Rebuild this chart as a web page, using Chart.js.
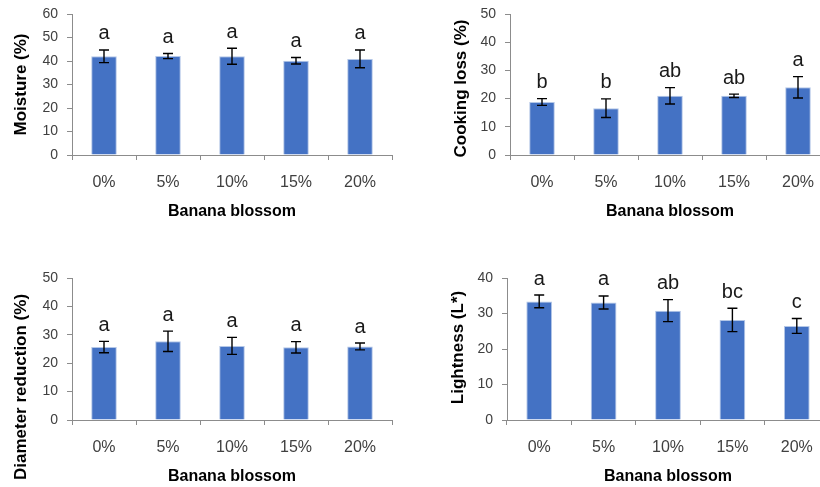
<!DOCTYPE html>
<html>
<head>
<meta charset="utf-8">
<script src="https://cdn.jsdelivr.net/npm/chart.js@4/dist/chart.umd.min.js"></script>
<style>
  html, body { margin: 0; padding: 0; background: #fff; width: 820px; height: 487px; overflow: hidden; position: relative; }
  canvas { position: absolute; }
</style>
</head>
<body>
<canvas id="moisture" width="410" height="240" style="left:0;top:0"></canvas>
<canvas id="cooking" width="420" height="240" style="left:410px;top:0"></canvas>
<canvas id="diameter" width="410" height="223" style="left:0;top:264px"></canvas>
<canvas id="lightness" width="420" height="223" style="left:410px;top:264px"></canvas>
<script>
// Banana blossom substitution levels
const categories = ['0%', '5%', '10%', '15%', '20%'];

// Moisture (%)
const moistureMean = [42.0, 42.1, 42.0, 40.1, 40.9];
const moistureSD = [2.7, 1.1, 3.4, 1.4, 3.8];
const moistureGroups = ['a', 'a', 'a', 'a', 'a'];

// Cooking loss (%)
const cookingMean = [18.8, 16.6, 21.0, 21.0, 24.0];
const cookingSD = [1.2, 3.3, 2.9, 0.6, 3.8];
const cookingGroups = ['b', 'b', 'ab', 'ab', 'a'];

// Diameter reduction (%)
const diameterMean = [25.7, 27.7, 26.1, 25.6, 25.9];
const diameterSD = [2.0, 3.6, 3.0, 2.0, 1.2];
const diameterGroups = ['a', 'a', 'a', 'a', 'a'];

// Lightness (L*)
const lightnessMean = [33.4, 33.1, 30.8, 28.2, 26.5];
const lightnessSD = [1.8, 1.85, 3.1, 3.3, 2.1];
const lightnessGroups = ['a', 'a', 'ab', 'bc', 'c'];

const FONT = "'Liberation Sans', Arial, sans-serif";
const AXIS_GREY = '#8c8c8c';
const TICK_TEXT = '#404040';
const BAR_BLUE = '#4472C4';

// Error bars, significance letters and axis titles
const decorations = {
  id: 'decorations',
  afterDatasetsDraw(chart, args, opts) {
    const { ctx, chartArea } = chart;
    const xs = chart.scales.x, ys = chart.scales.y;
    const mean = chart.data.datasets[0].data;
    ctx.save();
    ctx.strokeStyle = '#000';
    ctx.lineWidth = 1.4;
    mean.forEach((v, i) => {
      const x = xs.getPixelForValue(i);
      const yTop = ys.getPixelForValue(v + opts.sd[i]);
      const yBot = ys.getPixelForValue(v - opts.sd[i]);
      ctx.beginPath();
      ctx.moveTo(x, yTop); ctx.lineTo(x, yBot);
      ctx.moveTo(x - 5, yTop); ctx.lineTo(x + 5, yTop);
      ctx.moveTo(x - 5, yBot); ctx.lineTo(x + 5, yBot);
      ctx.stroke();
      ctx.fillStyle = '#1a1a1a';
      ctx.font = '20px ' + FONT;
      ctx.textAlign = 'center';
      ctx.textBaseline = 'alphabetic';
      ctx.fillText(opts.groups[i], x, yTop - 10.5);
    });
    // x-axis title
    ctx.fillStyle = '#000';
    ctx.font = 'bold 16px ' + FONT;
    ctx.textAlign = 'center';
    ctx.textBaseline = 'middle';
    ctx.fillText(opts.xTitle, (chartArea.left + chartArea.right) / 2, chartArea.bottom + 56.7);
    // y-axis title
    ctx.translate(opts.yTitleX, opts.yTitleY);
    ctx.rotate(-Math.PI / 2);
    ctx.font = 'bold 17px ' + FONT;
    ctx.fillText(opts.yTitle, 0, 0);
    ctx.restore();
  }
};

function panel(id, cfg) {
  const canvas = document.getElementById(id);
  const W = canvas.width, H = canvas.height;
  new Chart(canvas, {
    type: 'bar',
    data: {
      labels: categories,
      datasets: [{
        data: cfg.mean,
        backgroundColor: BAR_BLUE,
        borderColor: '#b4c7e7',
        borderWidth: 1,
        barPercentage: 0.4,
        categoryPercentage: 1.0
      }]
    },
    options: {
      responsive: false,
      animation: false,
      devicePixelRatio: 1,
      layout: { padding: { left: 0, top: cfg.plotTop, right: W - cfg.axisLeft - cfg.plotWidth, bottom: 0 } },
      plugins: {
        legend: { display: false },
        tooltip: { enabled: false },
        decorations: { sd: cfg.sd, groups: cfg.groups, xTitle: 'Banana blossom', yTitle: cfg.yTitle,
          yTitleX: cfg.yTitleX, yTitleY: cfg.yTitleY }
      },
      scales: {
        x: {
          grid: { display: true, drawOnChartArea: false, drawTicks: true, tickLength: 5, color: AXIS_GREY, offset: true },
          border: { display: true, color: AXIS_GREY, width: 1 },
          ticks: { font: { family: FONT, size: 16 }, color: TICK_TEXT, padding: 13, maxRotation: 0 },
          afterFit(scale) { scale.height = H - cfg.plotBottom; scale.paddingLeft = 0; scale.paddingRight = 0; }
        },
        y: {
          min: 0, max: cfg.max,
          grid: { display: true, drawOnChartArea: false, drawTicks: true, tickLength: 5, color: AXIS_GREY },
          border: { display: true, color: AXIS_GREY, width: 1 },
          ticks: { stepSize: 10, font: { family: FONT, size: 14 }, color: TICK_TEXT, padding: 9 },
          afterFit(scale) { scale.width = cfg.axisLeft; scale.paddingTop = 0; scale.paddingBottom = 0; }
        }
      }
    },
    plugins: [decorations]
  });
}

panel('moisture', { mean: moistureMean, sd: moistureSD, groups: moistureGroups, max: 60,
  yTitle: 'Moisture (%)', axisLeft: 72, plotWidth: 320, plotTop: 14, plotBottom: 155, yTitleX: 21.7, yTitleY: 84.5 });
panel('cooking', { mean: cookingMean, sd: cookingSD, groups: cookingGroups, max: 50,
  yTitle: 'Cooking loss (%)', axisLeft: 100, plotWidth: 320, plotTop: 14, plotBottom: 155, yTitleX: 51.7, yTitleY: 88.5 });
panel('diameter', { mean: diameterMean, sd: diameterSD, groups: diameterGroups, max: 50,
  yTitle: 'Diameter reduction (%)', axisLeft: 72, plotWidth: 320, plotTop: 14, plotBottom: 156, yTitleX: 21.7, yTitleY: 123 });
panel('lightness', { mean: lightnessMean, sd: lightnessSD, groups: lightnessGroups, max: 40,
  yTitle: 'Lightness (L*)', axisLeft: 97, plotWidth: 322, plotTop: 14, plotBottom: 156, yTitleX: 48.3, yTitleY: 83.5 });
</script>
</body>
</html>
